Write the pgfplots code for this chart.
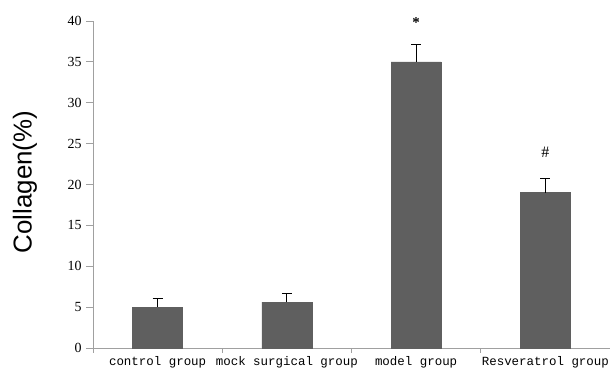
\documentclass[border=0pt]{standalone}
\usepackage{fontspec}
\setmainfont{Liberation Serif}
\newfontfamily\monofont{Liberation Mono}
\newfontfamily\sansfont{Liberation Sans}
\usepackage{pgfplots}
\pgfplotsset{compat=1.18}
\definecolor{barg}{HTML}{5F5F5F}
\definecolor{axg}{HTML}{A0A0A0}
\begin{document}
\begin{tikzpicture}
\begin{axis}[
  at={(0,0)}, anchor=south west,
  scale only axis, width=517bp, height=327bp,
  xmin=-0.5, xmax=3.5, ymin=0, ymax=40,
  axis x line*=bottom, axis y line*=left,
  axis line style={axg, line width=0.8pt},
  ytick={0,5,...,40},
  xtick={0,1,2,3},
  xticklabels={control group, mock surgical group, model group, Resveratrol group},
  x tick label style={font=\monofont\fontsize{12.5}{12.5}\selectfont, yshift=2bp},
  y tick label style={font=\fontsize{14}{14}\selectfont, xshift=-1bp},
  /pgf/number format/assume math mode=true,
  x tick style={draw=none},
  y tick style={axg, line width=0.8pt},
  tick align=outside, major tick length=7bp,
  extra x ticks={-0.5,0.5,1.5,2.5},
  extra x tick labels={},
  extra x tick style={x tick style={axg, line width=0.8pt, draw=axg}, major tick length=5bp},
  clip=false,
]
\addplot[ybar, bar width=50bp, fill=barg, draw=barg,
  error bars/.cd, y dir=plus, y explicit,
  error bar style={black, line width=1pt},
  error mark options={black, rotate=90, mark size=5bp, line width=1pt}]
  table[x=x, y=y, y error=e] {
x y e
0 5.0 1.1
1 5.6 1.1
2 35.0 2.1
3 19.0 1.75
};
\node[font=\bfseries\fontsize{15}{15}\selectfont] at (axis cs:2,39.8) {*};
\node[font=\fontsize{16}{16}\selectfont] at (axis cs:3,23.9) {\#};
\end{axis}
\node[rotate=90, font=\sansfont\fontsize{26}{26}\selectfont] at (-68bp,166bp) {Collagen(\%)};
\pgfresetboundingbox
\path[use as bounding box] (-93bp,-26bp) rectangle (517bp,348bp);
\end{tikzpicture}
\end{document}
